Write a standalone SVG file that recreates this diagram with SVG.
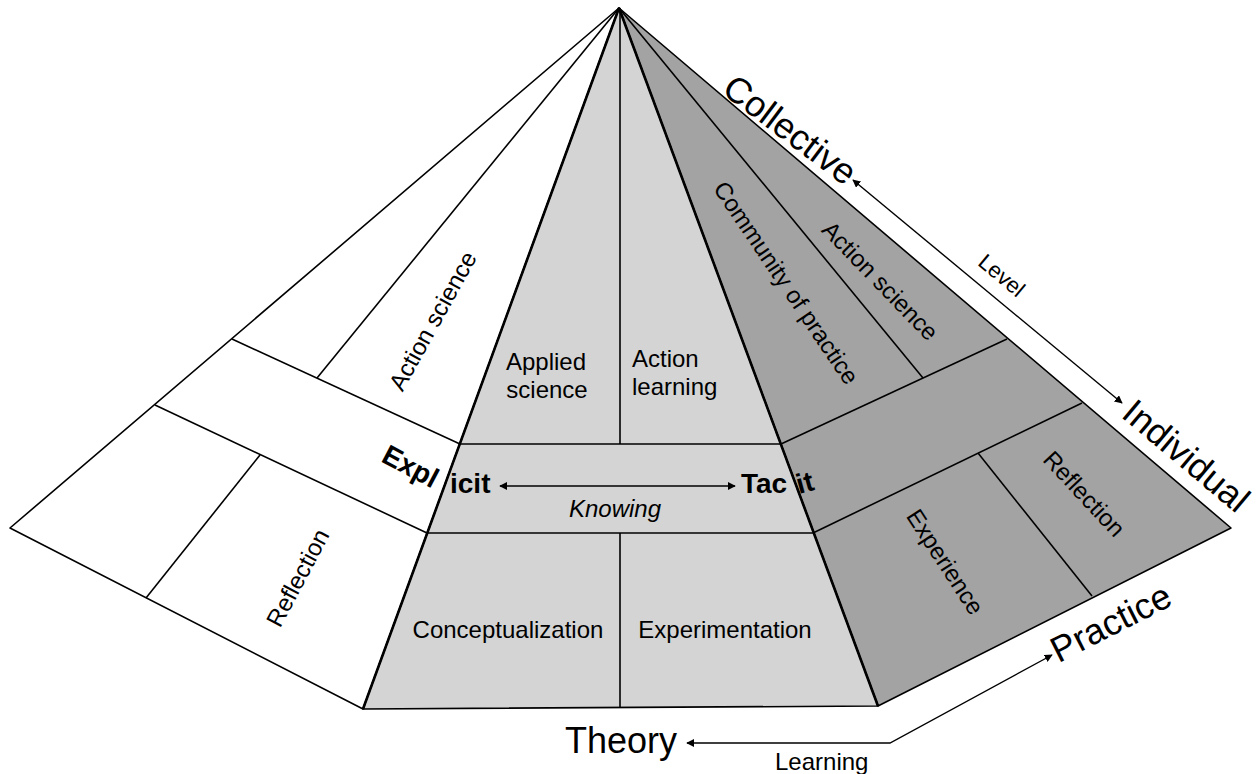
<svg xmlns="http://www.w3.org/2000/svg" width="1257" height="774" viewBox="0 0 1257 774">
<style>
text{font-family:"Liberation Sans",Arial,sans-serif;fill:#000}
.lbl{font-size:24px}
.big{font-size:36px}
.bold{font-size:28px;font-weight:bold}
.ln{stroke:#000;stroke-width:1.6;fill:none}
.thick{stroke:#000;stroke-width:2.6;fill:none}
.arr{stroke:#000;stroke-width:1.4;fill:none}
</style>
<defs>
<marker id="ah" viewBox="0 0 10 10" refX="9" refY="5" markerWidth="8" markerHeight="8" markerUnits="userSpaceOnUse" orient="auto-start-reverse">
<path d="M0,0 L10,5 L0,10 z" fill="#000"/>
</marker>
</defs>
<rect width="1257" height="774" fill="#fff"/>
<g id="left-face">
<polygon points="619,8 10,528 363,709" fill="#fff" stroke="#000" stroke-width="1.6" stroke-linejoin="round"/>
<line class="ln" x1="619" y1="8" x2="317" y2="378"/>
<line class="ln" x1="232" y1="339" x2="460" y2="444"/>
<line class="ln" x1="155" y1="405" x2="427" y2="533"/>
<line class="ln" x1="260" y1="455" x2="146" y2="598"/>
<text class="lbl" text-anchor="middle" transform="translate(433,321) rotate(-61)" y="8">Action science</text>
<text class="lbl" text-anchor="middle" transform="translate(298,578) rotate(-62)" y="8">Reflection</text>
</g>
<g id="right-face">
<polygon points="619,8 878,706 1231,528" fill="#a3a3a3" stroke="#000" stroke-width="1.6" stroke-linejoin="round"/>
<line class="ln" x1="619" y1="8" x2="923" y2="378"/>
<line class="ln" x1="781" y1="444" x2="1007" y2="339"/>
<line class="ln" x1="813" y1="533" x2="1082" y2="403"/>
<line class="ln" x1="978" y1="453" x2="1092" y2="596"/>
<text class="lbl" text-anchor="middle" transform="translate(786,283) rotate(56)" y="8">Community of practice</text>
<text class="lbl" text-anchor="middle" transform="translate(880,281) rotate(46)" y="8">Action science</text>
<text class="lbl" text-anchor="middle" transform="translate(945,562) rotate(57)" y="8">Experience</text>
<text class="lbl" text-anchor="middle" transform="translate(1084,494) rotate(47)" y="8">Reflection</text>
</g>
<g id="front-face">
<polygon points="619,8 363,709 878,706" fill="#d4d4d4" stroke="#000" stroke-width="1.6" stroke-linejoin="round"/>
<line class="thick" x1="619" y1="8" x2="363" y2="709"/>
<line class="thick" x1="619" y1="8" x2="878" y2="706"/>
<line class="ln" x1="620" y1="8" x2="620" y2="444"/>
<line class="ln" x1="460" y1="444" x2="781" y2="444"/>
<line class="ln" x1="427" y1="533" x2="813" y2="533"/>
<line class="ln" x1="620" y1="533" x2="620" y2="708"/>
<text class="lbl" text-anchor="middle" x="546" y="370">Applied</text>
<text class="lbl" text-anchor="middle" x="547" y="398">science</text>
<text class="lbl" x="632" y="367">Action</text>
<text class="lbl" x="632" y="395">learning</text>
<text class="lbl" text-anchor="middle" x="508" y="638">Conceptualization</text>
<text class="lbl" text-anchor="middle" x="725" y="638">Experimentation</text>
<text class="lbl" text-anchor="middle" x="615" y="517" font-style="italic">Knowing</text>
</g>
<g id="knowing-labels">
<text class="bold" transform="translate(380,461) rotate(28)">Expl</text>
<text class="bold" x="450" y="493">icit</text>
<text class="bold" x="741" y="493">Tac</text>
<text class="bold" transform="translate(799,494) rotate(-15)">it</text>
</g>
<g id="axis-labels">
<text class="big" text-anchor="middle" transform="translate(790,130) rotate(37)" y="12">Collective</text>
<text class="big" text-anchor="middle" transform="translate(1186,456) rotate(40)" y="12">Individual</text>
<text class="big" text-anchor="middle" transform="translate(1111,623) rotate(-27)" y="12">Practice</text>
<text class="big" x="565" y="753">Theory</text>
<text class="lbl" text-anchor="middle" transform="translate(1002,275) rotate(40)" y="8" style="font-size:22px">Level</text>
<text class="lbl" x="775" y="770">Learning</text>
</g>
<g id="connectors">
<line class="arr" x1="500" y1="486" x2="735" y2="486" marker-start="url(#ah)" marker-end="url(#ah)"/>
<line class="arr" x1="853" y1="180" x2="1122" y2="403" marker-start="url(#ah)" marker-end="url(#ah)"/>
<polyline class="arr" points="687,743 890,743 1052,655" marker-start="url(#ah)" marker-end="url(#ah)"/>
</g>
</svg>
